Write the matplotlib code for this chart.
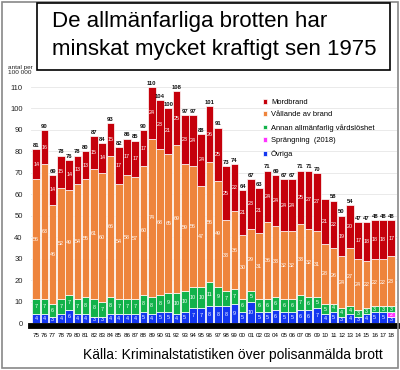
import matplotlib
matplotlib.use("Agg")
import matplotlib.pyplot as plt
from matplotlib.patches import Rectangle
import numpy as np

plt.rcParams['font.family'] = ['Liberation Sans', 'DejaVu Sans']

years = ['75','76','77','78','79','80','81','82','83','84','85','86','87','88','89',
         '90','91','92','93','94','95','96','97','98','99','00','01','02','03','04',
         '05','06','07','08','09','10','11','12','13','14','15','16','17','18']
ovriga = [4,4,3,4,6,4,4,3,3,4,4,4,4,5,4,5,5,4,5,7,7,8,8,8,9,5,10,5,5,6,5,5,6,6,7,4,5,3,4,3,4,5,5,3]
sprangning = [0]*43 + [2]
annan = [7,7,6,7,7,7,8,8,7,8,7,7,7,8,8,8,9,10,10,10,10,11,9,7,7,6,5,6,6,6,6,6,7,6,5,5,4,4,4,3,3,3,3,3]
vallande = [56,63,46,52,49,54,55,61,60,66,54,58,57,60,74,68,65,69,59,56,47,56,49,33,36,30,29,31,36,33,32,32,33,32,31,28,26,24,27,24,22,22,22,23]
mordbrand = [14,16,14,15,14,13,13,15,14,15,17,17,17,17,24,23,21,25,23,24,24,26,25,25,22,21,23,21,24,24,24,24,25,27,27,21,22,19,20,17,18,18,18,17]
totals = [81,90,69,78,76,78,80,87,84,93,82,86,85,90,110,104,100,108,97,97,88,101,91,73,74,64,67,63,71,69,67,67,71,71,70,None,58,50,54,47,47,48,48,48]

series = [
    ('Övriga', ovriga, '#1437F0'),
    ('Sprängning  (2018)', sprangning, '#FF33FF'),
    ('Annan allmänfarlig vårdslöshet', annan, '#12B24A'),
    ('Vållande av brand', vallande, '#EE843C'),
    ('Mordbrand', mordbrand, '#C5000B'),
]

W, H = 400, 370
fig = plt.figure(figsize=(W/100, H/100), dpi=100)
fig.patch.set_facecolor('white')
fig.add_artist(Rectangle((2/W, 2/H), 396/W, 366/H, transform=fig.transFigure,
                         fill=False, edgecolor='#888888', linewidth=1.2))

ax = fig.add_axes([31/W, (H-323)/H, 366/W, (323-72)/H])
x = np.arange(len(years))
bottom = np.zeros(len(years))
for name, vals, col in series:
    v = np.array(vals, dtype=float)
    ax.bar(x, v, bottom=bottom, width=0.92, color=col, edgecolor='white',
           linewidth=0.5, label=name, zorder=2)
    for i, val in enumerate(v):
        if val > 0:
            ax.text(x[i], bottom[i] + val/2, f'{int(val)}', ha='center', va='center',
                    color='white', fontsize=3.9, zorder=3)
    bottom += v

for i, t in enumerate(totals):
    if t is not None:
        ax.text(x[i], bottom[i] + 0.6, f'{t}', ha='center', va='bottom',
                color='#111111', fontsize=4.2, fontweight='bold', zorder=3)

ax.set_xlim(-0.62, len(years) - 0.3)
ax.set_ylim(0, 117)
ax.set_yticks(range(0, 111, 10))
ax.tick_params(axis='y', length=0, labelsize=5.5, labelcolor='#222222', pad=6)
ax.set_xticks(x)
ax.set_xticklabels(years)
ax.tick_params(axis='x', length=0, pad=5, labelsize=4.5)
for lbl in ax.get_xticklabels():
    lbl.set_fontweight('bold')
ax.grid(axis='y', color='#e6e6e6', linewidth=0.6, zorder=0)
ax.set_axisbelow(True)
for s in ['top', 'right', 'left']:
    ax.spines[s].set_visible(False)
ax.spines['bottom'].set_color('black')
ax.spines['bottom'].set_linewidth(4.2)
ax.spines['bottom'].set_position(('outward', 2.4))

fig.text(8/W, 1 - 70/H, 'antal per\n100 000', fontsize=4.6, color='#222222',
         ha='left', va='center', linespacing=1.1)

handles, labels = ax.get_legend_handles_labels()
order = [4, 3, 2, 1, 0]
leg = ax.legend([handles[i] for i in order], [labels[i] for i in order],
                loc='upper left', bbox_to_anchor=(259/W, 1 - 95/H),
                bbox_transform=fig.transFigure, frameon=False, fontsize=5.4,
                handlelength=0.6, handleheight=0.6, handletextpad=0.5,
                labelspacing=0.75, borderpad=0)

fig.add_artist(Rectangle((37/W, 1 - 70/H), 353/W, 67/H, transform=fig.transFigure,
                         facecolor='white', edgecolor='black', linewidth=1.2, zorder=5))
fig.text(52/W, 1 - 22/H, 'De allmänfarliga brotten har', fontsize=16,
         ha='left', va='center', zorder=6)
fig.text(52/W, 1 - 50/H, 'minskat mycket kraftigt sen 1975', fontsize=16,
         ha='left', va='center', zorder=6)

fig.text(83/W, 1 - 355/H, 'Källa: Kriminalstatistiken över polisanmälda brott',
         fontsize=10, ha='left', va='center')

fig.savefig('out.png', dpi=100)
